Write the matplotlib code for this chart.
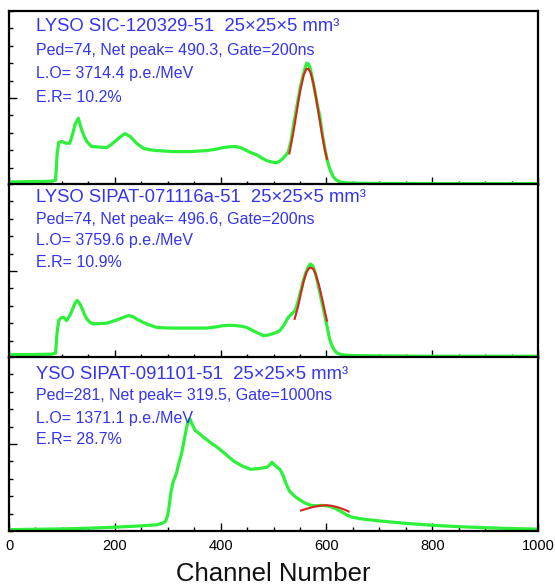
import matplotlib
matplotlib.use("Agg")
import matplotlib.pyplot as plt
from matplotlib.ticker import MultipleLocator, FixedLocator

plt.rcParams['font.family'] = ['Liberation Sans', 'DejaVu Sans']

# ---------------- data ----------------
TITLES = ["LYSO SIC-120329-51  25\u00d725\u00d75 mm\u00b3",
          "LYSO SIPAT-071116a-51  25\u00d725\u00d75 mm\u00b3",
          "YSO SIPAT-091101-51  25\u00d725\u00d75 mm\u00b3"]
PED_LINES = ["Ped=74, Net peak= 490.3, Gate=200ns",
             "Ped=74, Net peak= 496.6, Gate=200ns",
             "Ped=281, Net peak= 319.5, Gate=1000ns"]
LO_LINES = ["L.O= 3714.4 p.e./MeV", "L.O= 3759.6 p.e./MeV", "L.O= 1371.1 p.e./MeV"]
ER_LINES = ["E.R= 10.2%", "E.R= 10.9%", "E.R= 28.7%"]

top_ch = [0, 20, 40, 60, 80, 88, 91, 94, 100, 108, 115, 120, 125, 131, 137, 142, 147, 156, 170, 185,
          193, 200, 210, 219, 229, 241, 254, 265, 279, 295, 310, 326, 342, 358, 374, 390, 405, 418,
          430, 440, 449, 458, 468, 478, 487, 497, 506, 512, 518, 523, 528, 533, 537, 542, 547, 551,
          555, 559, 563, 566, 569, 573, 578, 583, 588, 592, 597, 601, 604, 608, 613, 619, 626, 640,
          660, 700, 800, 900, 1000]
top_cnt = [18, 18, 20, 20, 22, 28, 180, 245, 250, 240, 240, 290, 349, 384, 320, 280, 250, 221, 218, 215,
           232, 250, 275, 295, 279, 240, 211, 203, 198, 195, 192, 192, 192, 195, 198, 205, 215, 220,
           221, 212, 198, 185, 174, 155, 140, 132, 128, 138, 153, 170, 192, 250, 327, 415, 502, 565,
           618, 665, 700, 695, 676, 620, 541, 460, 386, 300, 211, 150, 115, 80, 47, 28, 17, 12,
           10, 9, 8, 8, 8]
top_fit_ch = [530, 538, 545, 551, 557, 562, 566, 570, 575, 580, 586, 592, 597, 601]
top_fit_cnt = [181, 310, 443, 550, 631, 666, 668, 646, 590, 509, 397, 285, 204, 150]

mid_ch = [0, 40, 80, 88, 91, 94, 98, 103, 109, 114, 118, 124, 129, 133, 137, 142, 147, 153, 159, 172,
          185, 195, 204, 215, 226, 234, 241, 250, 260, 270, 279, 295, 311, 342, 374, 390, 405, 418,
          430, 440, 449, 458, 468, 475, 481, 490, 500, 506, 512, 520, 528, 535, 541, 546, 551, 556,
          561, 566, 570, 574, 578, 583, 588, 593, 598, 602, 606, 610, 615, 620, 630, 650, 700, 800, 1000]
mid_cnt = [20, 20, 22, 28, 150, 215, 230, 234, 215, 240, 264, 310, 331, 315, 293, 255, 225, 205, 196, 198,
           200, 210, 219, 232, 244, 238, 225, 210, 196, 185, 176, 173, 172, 172, 172, 178, 186, 188,
           186, 182, 176, 162, 147, 137, 128, 132, 141, 148, 157, 190, 234, 255, 273, 320, 380, 440,
           490, 525, 540, 530, 500, 440, 370, 300, 230, 170, 110, 75, 45, 28, 18, 14, 12, 10, 10]
mid_fit_ch = [540, 546, 552, 557, 562, 566, 570, 575, 580, 586, 592, 597, 601]
mid_fit_cnt = [225, 290, 375, 440, 490, 512, 520, 512, 480, 417, 340, 268, 215]

bot_ch = [0, 50, 100, 150, 200, 240, 278, 290, 296, 300, 303, 306, 310, 314, 317, 321, 326, 331, 336,
          339, 342, 346, 352, 360, 367, 380, 393, 410, 424, 440, 456, 470, 487, 493, 497, 502, 507,
          512, 518, 524, 530, 540, 550, 560, 570, 580, 590, 600, 610, 620, 630, 640, 650, 670, 700,
          750, 800, 850, 900, 950, 1000]
bot_cnt = [8, 10, 12, 16, 22, 28, 35, 45, 55, 90, 150, 220, 280, 310, 337, 390, 442, 520, 599,
           630, 645, 615, 577, 560, 541, 510, 483, 440, 403, 375, 355, 358, 366, 380, 395, 380, 365,
           355, 320, 270, 230, 200, 178, 160, 148, 145, 147, 145, 138, 125, 108, 90, 78, 68, 58,
           44, 33, 25, 19, 14, 11]
bot_fit_ch = [552, 565, 578, 590, 600, 610, 622, 635, 642]
bot_fit_cnt = [118, 130, 140, 146, 148, 145, 136, 122, 112]

X_TICKS = [0, 200, 400, 600, 800, 1000]
X_LABELS = ["0", "200", "400", "600", "800", "1000"]

# ---------------- figure ----------------
W, H = 555, 586
fig = plt.figure(figsize=(W / 100, H / 100), dpi=100)

left_px, right_px = 9, 538
tops = [11, 184, 357]
ph = 174

GREEN = '#2cf03a'
RED = '#e02020'
BLUE = '#3434f0'

panels = [(top_ch, top_cnt, top_fit_ch, top_fit_cnt),
          (mid_ch, mid_cnt, mid_fit_ch, mid_fit_cnt),
          (bot_ch, bot_cnt, bot_fit_ch, bot_fit_cnt)]
text_offsets = [[20, 44, 67, 91], [18, 40, 61, 83], [22, 43, 66, 87]]

for i, (ch, cnt, fch, fcnt) in enumerate(panels):
    t = tops[i]
    ax = fig.add_axes([left_px / W, 1 - (t + ph) / H, (right_px - left_px) / W, ph / H])
    ax.plot(ch, cnt, color=GREEN, lw=2.3, solid_joinstyle='round', zorder=2)
    ax.plot(fch, fcnt, color=RED, lw=1.5, zorder=3)
    ax.set_xlim(0, 1000)
    ax.set_ylim(0, 1000)
    for s in ax.spines.values():
        s.set_linewidth(1.6)
    ax.xaxis.set_major_locator(FixedLocator(X_TICKS))
    ax.xaxis.set_minor_locator(MultipleLocator(50))
    ax.yaxis.set_major_locator(FixedLocator([500]))
    ax.yaxis.set_minor_locator(MultipleLocator(100))
    ax.tick_params(axis='both', which='major', direction='in', length=6, width=1.0,
                   top=False, right=False)
    ax.tick_params(axis='both', which='minor', direction='in', length=3, width=1.0,
                   top=False, right=False)
    ax.set_yticklabels([])
    if i == 2:
        ax.set_xticklabels(X_LABELS, fontsize=10.5)
        ax.tick_params(axis='x', which='major', pad=6)
    else:
        ax.set_xticklabels([])
    lines = [TITLES[i], PED_LINES[i], LO_LINES[i], ER_LINES[i]]
    sizes = [13.3, 11.5, 11.5, 11.5]
    for j, (txt, off) in enumerate(zip(lines, text_offsets[i])):
        ax.text((36 - left_px) / (right_px - left_px), 1 - off / ph, txt,
                transform=ax.transAxes, color=BLUE, fontsize=sizes[j],
                ha='left', va='baseline', zorder=4)

fig.text(273.5 / W, 1 - 581 / H, "Channel Number", fontsize=18.5, ha='center', va='baseline',
         color='#111111')

fig.savefig("out.png", dpi=100)
